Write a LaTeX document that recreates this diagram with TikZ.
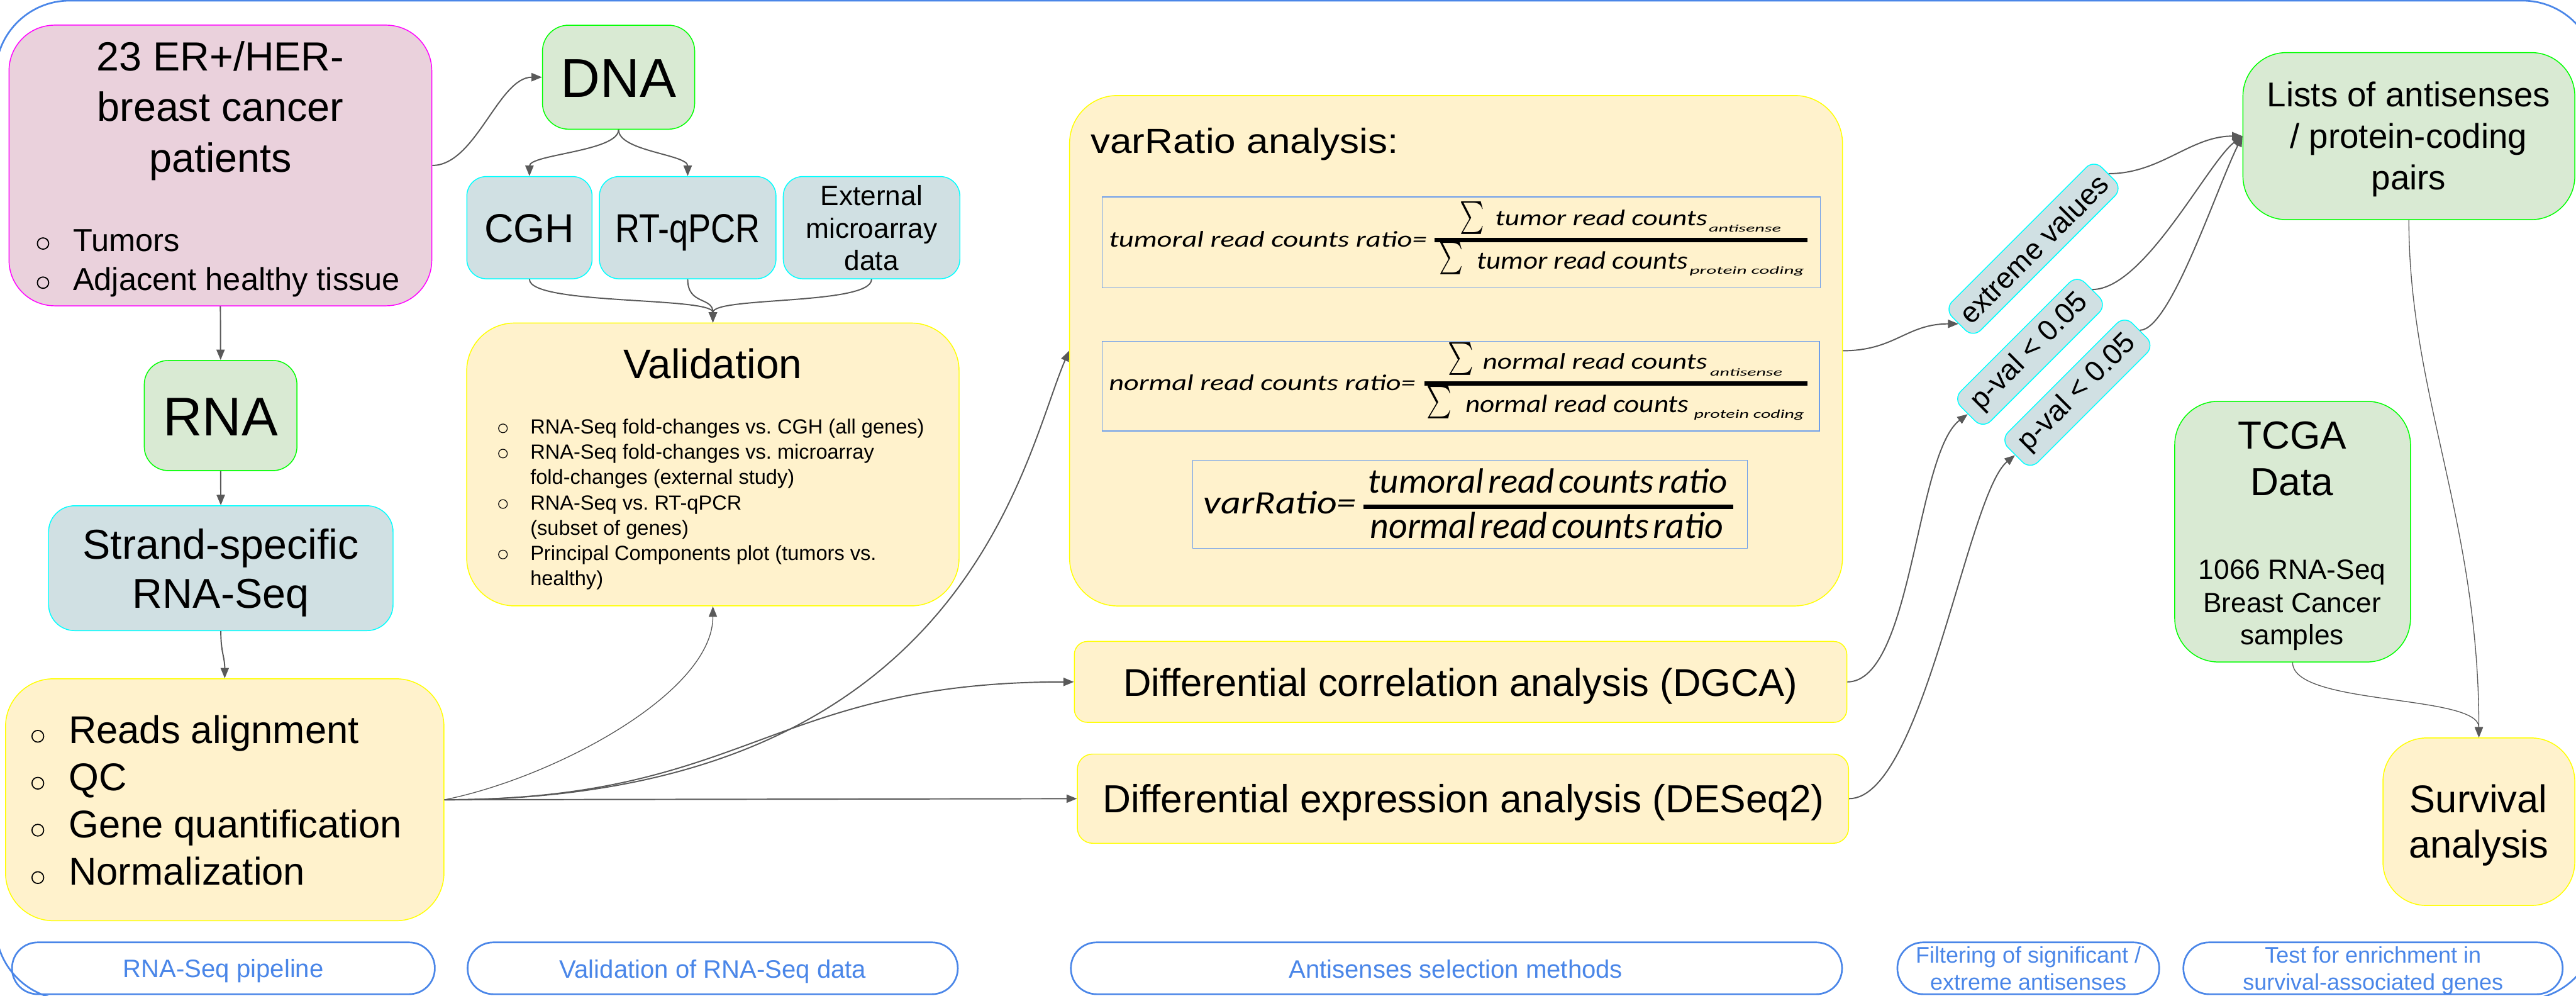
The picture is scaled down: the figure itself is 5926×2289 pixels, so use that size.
\documentclass[tikz,border=0pt]{standalone}
\usepackage{fontspec}
\usepackage{amsmath}
\setmainfont{Liberation Sans}
\newfontfamily\fcal{Carlito}
\usetikzlibrary{arrows.meta}
\definecolor{pinkf}{HTML}{EAD1DC}
\definecolor{pinkd}{HTML}{FF00FF}
\definecolor{greenf}{HTML}{D9EAD3}
\definecolor{greend}{HTML}{00FF00}
\definecolor{bluef}{HTML}{D0E0E3}
\definecolor{blued}{HTML}{00FFFF}
\definecolor{yelf}{HTML}{FFF2CC}
\definecolor{yeld}{HTML}{FFFF00}
\definecolor{frameblue}{HTML}{4A86E8}
\definecolor{fblue}{HTML}{6D9EEB}
\definecolor{arrowc}{HTML}{595959}
\newcommand\setfs[1]{\fontsize{#1}{#1}\selectfont}
\newcommand\rsz[3]{\resizebox{#1}{#2}{\fcal\itshape #3}}
\newcommand\rszt[3]{\resizebox{#1}{#2}{\fcal\itshape\spaceskip=0.12em #3}}
\newcommand\sig[2]{\resizebox*{#1}{#2}{$\sum$}}
\begin{document}
\begin{tikzpicture}[x=0.01cm, y=-0.01cm,
  box/.style={rectangle, inner sep=0pt, line width=0.6pt},
  pinkbox/.style={box, fill=pinkf, draw=pinkd},
  greenbox/.style={box, fill=greenf, draw=greend},
  bluebox/.style={box, fill=bluef, draw=blued},
  yelbox/.style={box, fill=yelf, draw=yeld},
  pill/.style={rectangle, draw=frameblue, line width=1.1pt, rounded corners=0.59cm, inner sep=0pt, minimum height=1.19cm},
  fmbox/.style={rectangle, draw=fblue, line width=0.5pt, inner sep=0pt},
  txt/.style={inner sep=0pt, outer sep=0pt, anchor=base},
  ltxt/.style={inner sep=0pt, outer sep=0pt, anchor=base west},
  ctxt/.style={inner sep=0pt, outer sep=0pt},
  ptxt/.style={txt, text=frameblue},
  arr/.style={draw=arrowc, line width=0.8pt, -{Triangle[length=0.24cm,width=0.19cm]}},
  thinarr/.style={arr, line width=0.55pt},
  bul/.style={draw=black, line width=0.6pt},
  lbl/.style={bluebox, rounded corners=0.25cm, rotate=45, font=\setfs{19}}
]
\useasboundingbox (0,0) rectangle (5926,2289);
\clip (0,0) rectangle (5926,2289);
% outer frame
\draw[draw=frameblue, line width=1.1pt, rounded corners=1.7cm] (-10,1.5) rectangle (5973,2299);

% ---------- boxes ----------
\node[pinkbox, rounded corners=1.05cm, minimum width=9.72cm, minimum height=6.45cm] (pat) at (507,380.5) {};
\node[greenbox, rounded corners=0.6cm, minimum width=3.5cm, minimum height=2.39cm] (dna) at (1423,177.5) {};
\node[bluebox, rounded corners=0.45cm, minimum width=2.88cm, minimum height=2.35cm] (cgh) at (1218,523.5) {};
\node[bluebox, rounded corners=0.45cm, minimum width=4.06cm, minimum height=2.35cm] (rtq) at (1582,523.5) {};
\node[bluebox, rounded corners=0.45cm, minimum width=4.06cm, minimum height=2.35cm] (ext) at (2005,523.5) {};
\node[yelbox, rounded corners=1.1cm, minimum width=11.32cm, minimum height=6.5cm] (val) at (1640,1068) {};
\node[greenbox, rounded corners=0.55cm, minimum width=3.51cm, minimum height=2.53cm] (rna) at (507.5,955.5) {};
\node[bluebox, rounded corners=0.6cm, minimum width=7.92cm, minimum height=2.87cm] (str) at (508,1306.5) {};
\node[yelbox, rounded corners=1.1cm, minimum width=10.08cm, minimum height=5.56cm] (pipe) at (517,1839) {};
\node[yelbox, rounded corners=1.1cm, minimum width=17.77cm, minimum height=11.73cm] (var) at (3349.5,806.5) {};
\node[yelbox, rounded corners=0.3cm, minimum width=17.76cm, minimum height=1.86cm] (dgca) at (3360,1568) {};
\node[yelbox, rounded corners=0.35cm, minimum width=17.73cm, minimum height=2.05cm] (des) at (3365.5,1836.5) {};
\node[greenbox, rounded corners=1.0cm, minimum width=7.63cm, minimum height=3.84cm] (lists) at (5541.5,313) {};
\node[greenbox, rounded corners=1.0cm, minimum width=5.42cm, minimum height=5.99cm] (tcga) at (5274,1222.5) {};
\node[yelbox, rounded corners=1.0cm, minimum width=4.41cm, minimum height=3.85cm] (surv) at (5702.5,1889.5) {};

% rotated filter labels
\node[lbl, minimum width=4.86cm, minimum height=0.93cm] (extv) at (4678,572) {extreme values};
\node[lbl, minimum width=4.03cm, minimum height=0.97cm] (pv1) at (4670,809) {p-val < 0.05};
\node[lbl, minimum width=4.04cm, minimum height=0.97cm] (pv2) at (4779,903) {p-val < 0.05};

% formula boxes
\node[fmbox, minimum width=16.51cm, minimum height=2.09cm] (fb1) at (3361.5,557.5) {};
\node[fmbox, minimum width=16.49cm, minimum height=2.06cm] (fb2) at (3360.5,888) {};
\node[fmbox, minimum width=12.75cm, minimum height=2.03cm] (fb3) at (3381.5,1159.5) {};

% bottom pills
\node[pill, minimum width=9.72cm] (pl1) at (514,2226.5) {};
\node[pill, minimum width=11.27cm] (pl2) at (1639.5,2226.5) {};
\node[pill, minimum width=17.73cm] (pl3) at (3350.5,2226.5) {};
\node[pill, minimum width=6.02cm] (pl4) at (4666,2226.5) {};
\node[pill, minimum width=8.72cm] (pl5) at (5459,2226.5) {};

% ---------- texts ----------
\node[txt, font=\setfs{26.6}] (patt1) at (507,163) {23 ER+/HER-};
\node[txt, font=\setfs{26.6}] (patt2) at (507,279) {breast cancer};
\node[txt, font=\setfs{26.6}] (patt3) at (507,395) {patients};
\draw[bul, line width=0.75pt] (99,560) circle[radius=0.13cm];
\draw[bul, line width=0.75pt] (99,650) circle[radius=0.13cm];
\node[ltxt, font=\setfs{20.8}] (patb1) at (168,578) {Tumors};
\node[ltxt, font=\setfs{20.8}] (patb2) at (168,667) {Adjacent healthy tissue};

\node[txt, font=\setfs{35.8}] (dnat) at (1423,223) {DNA};
\node[txt, font=\setfs{26.5}] (cght) at (1218,558) {CGH};
\node[txt, font=\setfs{26.5}] (rtqt) at (1582,558) {\scalebox{0.84}[1]{RT-qPCR}};
\node[txt, font=\setfs{18.2}] (extt1) at (2005,473) {External};
\node[txt, font=\setfs{18.2}] (extt2) at (2005,547) {microarray};
\node[txt, font=\setfs{18.2}] (extt3) at (2005,621) {data};

\node[txt, font=\setfs{27}] (valt) at (1640,870) {Validation};
\foreach \yy in {985,1043,1159,1275} {\draw[bul, line width=0.5pt] (1157,\yy) circle[radius=0.1cm];}
\node[ltxt, font=\setfs{13.4}] (vb1) at (1220,998) {RNA-Seq fold-changes vs.\ CGH (all genes)};
\node[ltxt, font=\setfs{13.4}] (vb2) at (1220,1056) {RNA-Seq fold-changes vs.\ microarray};
\node[ltxt, font=\setfs{13.4}] (vb3) at (1220,1114) {fold-changes (external study)};
\node[ltxt, font=\setfs{13.4}] (vb4) at (1220,1172) {RNA-Seq vs.\ RT-qPCR};
\node[ltxt, font=\setfs{13.4}] (vb5) at (1220,1231) {(subset of genes)};
\node[ltxt, font=\setfs{13.4}] (vb6) at (1220,1288) {Principal Components plot (tumors vs.};
\node[ltxt, font=\setfs{13.4}] (vb7) at (1220,1346) {healthy)};

\node[txt, font=\setfs{35.6}] (rnat) at (507.5,1002) {RNA};
\node[txt, font=\setfs{27.3}] (strt1) at (508,1285) {Strand-specific};
\node[txt, font=\setfs{27.3}] (strt2) at (508,1399) {RNA-Seq};

\foreach \yy in {1693,1801,1909,2018} {\draw[bul, line width=0.7pt] (87,\yy) circle[radius=0.135cm];}
\node[ltxt, font=\setfs{25.3}] (pb1) at (158,1710) {Reads alignment};
\node[ltxt, font=\setfs{25.3}] (pb2) at (158,1818) {QC};
\node[ltxt, font=\setfs{25.3}] (pb3) at (158,1926) {Gene quantification};
\node[ltxt, font=\setfs{25.3}] (pb4) at (158,2035) {Normalization};

\node[ltxt, font=\setfs{22.8}] (vart) at (2509,353) {\scalebox{1.12}[1]{varRatio analysis:}};

% formula 1
\node[ltxt] (f1a) at (2551,568) {\rsz{7.31cm}{0.36cm}{tumoral read counts ratio=}};
\fill (3300,547) rectangle (4158,557);
\node[ctxt] (f1s1) at (3387,500.5) {\sig{0.56cm}{0.75cm}};
\node[ltxt] (f1n) at (3440,518) {\rsz{4.87cm}{0.36cm}{tumor read counts}};
\node[ltxt] (f1ns) at (3931,533) {\rsz{1.66cm}{0.16cm}{antisense}};
\node[ctxt] (f1s2) at (3338.5,594.5) {\sig{0.55cm}{0.75cm}};
\node[ltxt] (f1d) at (3398,618) {\rsz{4.84cm}{0.40cm}{tumor read counts}};
\node[ltxt] (f1ds) at (3887,630) {\rsz{2.63cm}{0.17cm}{protein coding}};
% formula 2
\node[ltxt] (f2a) at (2551,898) {\rsz{7.05cm}{0.36cm}{normal read counts ratio=}};
\fill (3277,877) rectangle (4158,887);
\node[ctxt] (f2s1) at (3360.5,825.5) {\sig{0.59cm}{0.75cm}};
\node[ltxt] (f2n) at (3411,848) {\rsz{5.16cm}{0.36cm}{normal read counts}};
\node[ltxt] (f2ns) at (3934,865) {\rsz{1.66cm}{0.17cm}{antisense}};
\node[ctxt] (f2s2) at (3311,925.5) {\sig{0.58cm}{0.75cm}};
\node[ltxt] (f2d) at (3371,948) {\rsz{5.14cm}{0.40cm}{normal read counts}};
\node[ltxt] (f2ds) at (3897,962) {\rsz{2.53cm}{0.19cm}{protein coding}};
% formula 3
\node[ltxt] (f3a) at (2769,1182) {\rsz{3.51cm}{0.52cm}{varRatio=}};
\fill (3136,1160) rectangle (3987,1170);
\node[ltxt] (f3n) at (3148,1133) {\rszt{8.25cm}{0.56cm}{tumoral read counts ratio}};
\node[ltxt] (f3d) at (3152,1237) {\rszt{8.12cm}{0.60cm}{normal read counts ratio}};

\node[txt, font=\setfs{25.3}] (dgcat) at (3360,1601) {Differential correlation analysis (DGCA)};
\node[txt, font=\setfs{25.6}] (dest) at (3367,1868) {Differential expression analysis (DESeq2)};

\node[txt, font=\setfs{22.5}] (lt1) at (5541,245) {Lists of antisenses};
\node[txt, font=\setfs{22.5}] (lt2) at (5541,341) {/ protein-coding};
\node[txt, font=\setfs{22.5}] (lt3) at (5541,436) {pairs};

\node[txt, font=\setfs{25.6}] (tt1) at (5273,1033) {TCGA};
\node[txt, font=\setfs{25.6}] (tt2) at (5273,1140) {Data};
\node[txt, font=\setfs{18.2}] (tt3) at (5273,1332) {1066 RNA-Seq};
\node[txt, font=\setfs{18.2}] (tt4) at (5273,1408) {Breast Cancer};
\node[txt, font=\setfs{18.2}] (tt5) at (5273,1482) {samples};

\node[txt, font=\setfs{25.3}] (st1) at (5702,1868) {Survival};
\node[txt, font=\setfs{25.3}] (st2) at (5702,1973) {analysis};

\node[ptxt, font=\setfs{16.5}] (plt1) at (514,2248) {RNA-Seq pipeline};
\node[ptxt, font=\setfs{16.5}] (plt2) at (1640,2249) {Validation of RNA-Seq data};
\node[ptxt, font=\setfs{16.5}] (plt3) at (3349,2249) {Antisenses selection methods};
\node[ptxt, font=\setfs{14.8}] (plt4a) at (4666,2215) {Filtering of significant /};
\node[ptxt, font=\setfs{14.8}] (plt4b) at (4666,2277) {extreme antisenses};
\node[ptxt, font=\setfs{14.8}] (plt5a) at (5459,2215) {Test for enrichment in};
\node[ptxt, font=\setfs{14.8}] (plt5b) at (5459,2277) {survival-associated genes};

% ---------- connectors ----------
\draw[arr] (pat.east) .. controls +(100,0) and +(-100,0) .. (dna.west);
\draw[arr] (pat.south) -- (rna.north);
\draw[arr] (rna.south) -- (str.north);
\draw[arr] (str.south) .. controls +(0,50) and +(0,-50) .. (pipe.north);
\draw[arr] (dna.south) .. controls +(0,50) and +(0,-50) .. (cgh.north);
\draw[arr] (dna.south) .. controls +(0,50) and +(0,-50) .. (rtq.north);
\draw[arr] (cgh.south) .. controls +(0,60) and +(0,-60) .. (val.north);
\draw[arr] (rtq.south) .. controls +(0,60) and +(0,-60) .. (val.north);
\draw[arr] (ext.south) .. controls +(0,60) and +(0,-60) .. (val.north);
\draw[thinarr] (pipe.east) .. controls +(250,-50) and +(0,200) .. (val.south);
\draw[arr] (pipe.east) .. controls +(1200,0) and +(-108,252) .. (var.west);
\draw[arr] (pipe.east) .. controls +(700,0) and +(-700,0) .. (dgca.west);
\draw[arr] (pipe.east) -- (des.west);
\draw[arr] (var.east) .. controls +(120,0) and +(-120,0) .. (extv.west);
\draw[arr] (dgca.east) .. controls +(150,0) and +(-120,90) .. (pv1.west);
\draw[arr] (des.east) .. controls +(170,0) and +(-110,90) .. (pv2.west);
\draw[arr] (extv.east) .. controls +(120,0) and +(-120,0) .. (lists.west);
\draw[arr] (pv1.east) .. controls +(120,0) and +(-80,60) .. (lists.west);
\draw[arr] (pv2.east) .. controls +(70,0) and +(-60,120) .. (lists.west);
\draw[thinarr] (lists.south) .. controls +(0,400) and +(0,-500) .. (surv.north);
\draw[thinarr] (tcga.south) .. controls +(0,100) and +(0,-100) .. (surv.north);
\end{tikzpicture}
\end{document}
